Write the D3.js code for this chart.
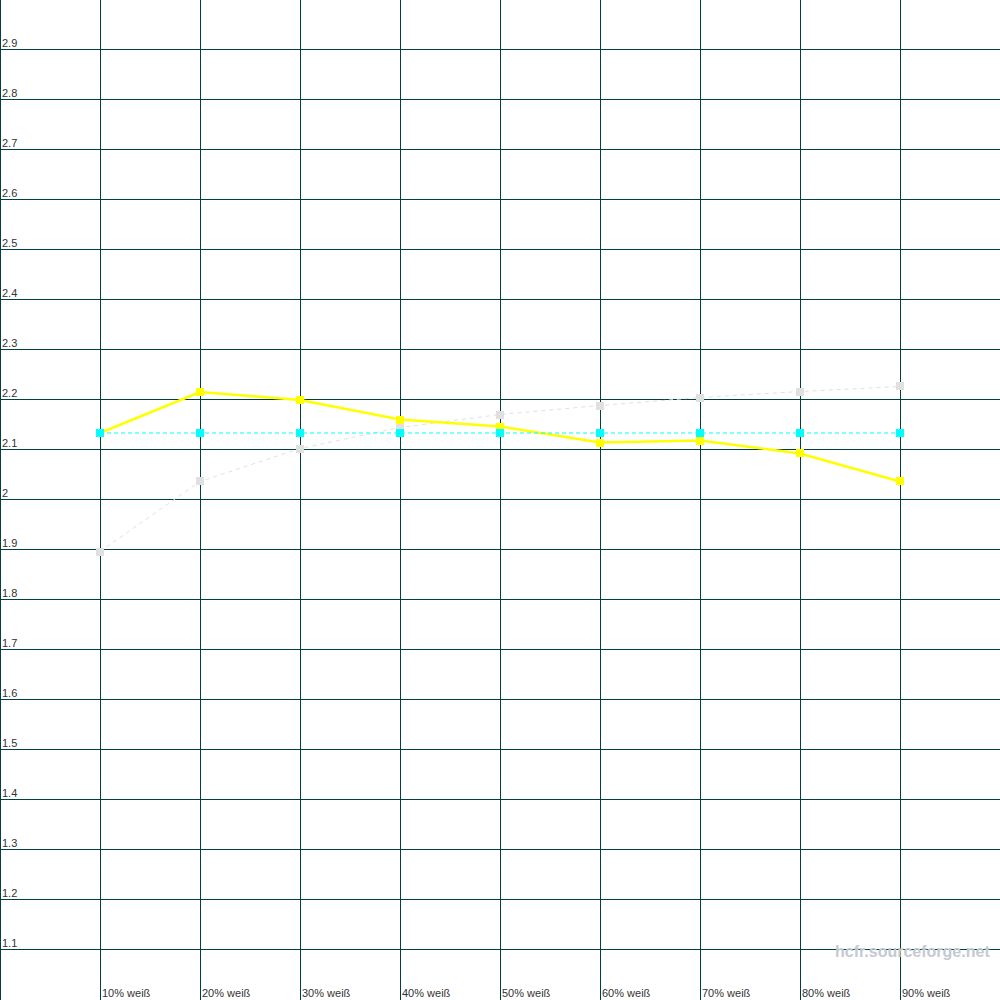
<!DOCTYPE html>
<html><head><meta charset="utf-8">
<script src="https://cdn.jsdelivr.net/npm/d3@7"></script>
<style>
html,body{margin:0;padding:0;background:#fff;}
svg{display:block;}
</style></head>
<body>
<svg id="c" width="1000" height="1000"></svg>
<script>
const categories = ["10% weiß","20% weiß","30% weiß","40% weiß","50% weiß","60% weiß","70% weiß","80% weiß","90% weiß"];
const yellowValues = [2.132,2.214,2.198,2.159,2.145,2.113,2.117,2.091,2.035];
const cyanValues   = [2.132,2.132,2.132,2.132,2.132,2.132,2.132,2.132,2.132];
const grayValues   = [1.895,2.035,2.101,2.143,2.169,2.187,2.203,2.215,2.225];
const yTickValues  = [1.1,1.2,1.3,1.4,1.5,1.6,1.7,1.8,1.9,2.0,2.1,2.2,2.3,2.4,2.5,2.6,2.7,2.8,2.9];
const yTickLabels  = ["1.1","1.2","1.3","1.4","1.5","1.6","1.7","1.8","1.9","2","2.1","2.2","2.3","2.4","2.5","2.6","2.7","2.8","2.9"];
const watermark = "hcfr.sourceforge.net";

const svg = d3.select("#c");
const W = 1000, H = 1000;
const x = d3.scalePoint().domain(categories).range([100, 900]);
const y = d3.scaleLinear().domain([1.0, 3.0]).range([999, -1]);
const gridColor = "#004040";

// horizontal grid lines
svg.append("g").selectAll("line").data(yTickValues).join("line")
  .attr("x1", 0).attr("x2", W)
  .attr("y1", d => Math.round(y(d)) + 0.5).attr("y2", d => Math.round(y(d)) + 0.5)
  .attr("stroke", gridColor).attr("stroke-width", 1).attr("shape-rendering", "crispEdges");

// vertical grid lines (left edge + categories)
svg.append("g").selectAll("line").data([null].concat(categories)).join("line")
  .attr("x1", d => d === null ? 0.5 : Math.round(x(d)) + 0.5)
  .attr("x2", d => d === null ? 0.5 : Math.round(x(d)) + 0.5)
  .attr("y1", 0).attr("y2", H)
  .attr("stroke", gridColor).attr("stroke-width", 1).attr("shape-rendering", "crispEdges");

// y labels
svg.append("g").selectAll("text").data(yTickValues).join("text")
  .attr("x", 2).attr("y", d => Math.round(y(d)) - 2)
  .attr("font-family", "Liberation Sans, Arial, sans-serif").attr("font-size", 11)
  .attr("fill", "#333").text((d, i) => yTickLabels[i]);

// x labels
svg.append("g").selectAll("text").data(categories).join("text")
  .attr("x", d => x(d) + 2).attr("y", 997)
  .attr("font-family", "Liberation Sans, Arial, sans-serif").attr("font-size", 11)
  .attr("fill", "#333").text(d => d);

// watermark
svg.append("text").attr("x", 835).attr("y", 957)
  .attr("font-family", "Liberation Sans, Arial, sans-serif").attr("font-size", 16).attr("font-weight", "bold")
  .attr("fill", "#c4cad2").text(watermark);

function series(vals, color, width, dash, size) {
  const g = svg.append("g");
  const line = d3.line().x((d, i) => x(categories[i])).y(d => y(d));
  g.append("path").attr("d", line(vals)).attr("fill", "none")
    .attr("stroke", color).attr("stroke-width", width)
    .attr("stroke-dasharray", dash);
  g.selectAll("rect").data(vals).join("rect")
    .attr("x", (d, i) => Math.round(x(categories[i])) - size / 2)
    .attr("y", d => Math.round(y(d)) - size / 2)
    .attr("width", size).attr("height", size).attr("fill", color)
    .attr("shape-rendering", "crispEdges");
}
series(grayValues, "#e0e0e0", 1, "4,4", 8);
series(yellowValues, "#ffff00", 2.5, null, 8);
series(cyanValues, "#00ffff", 1, "4,3", 8);
</script>
</body></html>
